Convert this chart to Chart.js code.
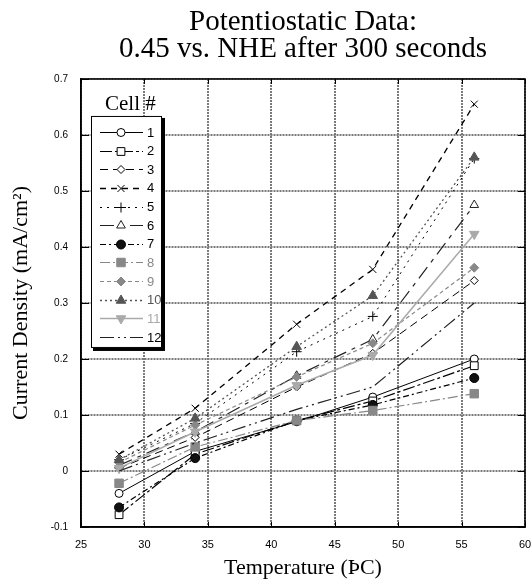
<!DOCTYPE html>
<html><head><meta charset="utf-8">
<script src="https://cdn.jsdelivr.net/npm/chart.js@4/dist/chart.umd.min.js"></script>
<style>html,body{margin:0;padding:0;background:#fff}</style>
</head><body>
<canvas id="c" width="532" height="581"></canvas>
<script>
// ---- data ----
const temperatures = [28, 34, 42, 48, 56];
const cellNames = ['1','2','3','4','5','6','7','8','9','10','11','12'];
const cell1  = [-0.040, 0.035, 0.088, 0.132, 0.200];
const cell2  = [-0.078, 0.030, 0.090, 0.125, 0.188];
const cell3  = [ 0.005, 0.060, 0.150, 0.210, 0.340];
const cell4  = [ 0.030, 0.112, 0.262, 0.360, 0.655];
const cell5  = [ 0.020, 0.085, 0.213, 0.276, 0.558];
const cell6  = [ 0.010, 0.070, 0.170, 0.235, 0.475];
const cell7  = [-0.065, 0.023, 0.090, 0.118, 0.166];
const cell8  = [-0.022, 0.043, 0.090, 0.108, 0.138];
const cell9  = [ 0.015, 0.082, 0.168, 0.228, 0.363];
const cell10 = [ 0.020, 0.094, 0.222, 0.313, 0.560];
const cell11 = [ 0.005, 0.070, 0.153, 0.207, 0.423];
const cell12 = [ 0.000, 0.050, 0.110, 0.150, 0.300];
const yTickValues = [-0.1, 0, 0.1, 0.2, 0.3, 0.4, 0.5, 0.6, 0.7];
const xTickValues = [25, 30, 35, 40, 45, 50, 55, 60];

const seriesValues = [cell1, cell2, cell3, cell4, cell5, cell6, cell7, cell8, cell9, cell10, cell11, cell12];

// styles per series
const styles = [
  {color:'#000', dash:[],            lw:1,   ps:'circle',   r:4,   fill:'#fff'},
  {color:'#000', dash:[12,3,3,3],    lw:1.2, ps:'rect',     r:5.5, fill:'#fff'},
  {color:'#000', dash:[8,5],         lw:1,   ps:'rectRot',  r:4,   fill:'#fff'},
  {color:'#000', dash:[6,5],         lw:1.3, ps:'crossRot', r:5,   fill:'#000'},
  {color:'#000', dash:[2,5],         lw:1,   ps:'cross',    r:5,   fill:'#000'},
  {color:'#222', dash:[14,6,4,6],    lw:1.2, ps:'triangle', r:5,   fill:'#fff'},
  {color:'#000', dash:[6,3,2,3],     lw:1.2, ps:'circle',   r:4.5, fill:'#111'},
  {color:'#888', dash:[10,3,2,3],    lw:1.2, ps:'rect',     r:6,   fill:'#888'},
  {color:'#888', dash:[4,3],         lw:1.2, ps:'rectRot',  r:4.5, fill:'#888'},
  {color:'#555', dash:[2,3],         lw:1.3, ps:'triangle', r:5.5, fill:'#555'},
  {color:'#aaa', dash:[],            lw:1.5, ps:'triangle', r:5.5, fill:'#aaa', rot:180},
  {color:'#222', dash:[14,4,2,4,2,4],lw:1.2, ps:false,      r:0,   fill:'#222'}
];

const datasets = seriesValues.map((vals, i) => {
  const s = styles[i];
  return {
    label: cellNames[i],
    data: temperatures.map((t, j) => ({x: t, y: vals[j]})),
    order: seriesValues.length - i,
    borderColor: s.color,
    backgroundColor: s.fill,
    borderWidth: s.lw,
    borderDash: s.dash,
    pointStyle: s.ps,
    pointRadius: s.r,
    pointRotation: s.rot || 0,
    pointBorderColor: s.color,
    pointBackgroundColor: s.fill,
    pointBorderWidth: 1,
    tension: 0,
    fill: false
  };
});

const framePlugin = {
  id: 'frame',
  afterDatasetsDraw(chart) {
    const {ctx, chartArea: a, scales: {x, y}} = chart;
    ctx.save();
    ctx.setLineDash([]);
    ctx.strokeStyle = '#000';
    ctx.lineWidth = 1;
    const seg = (x1, y1, x2, y2) => { ctx.beginPath(); ctx.moveTo(x1, y1); ctx.lineTo(x2, y2); ctx.stroke(); };
    yTickValues.forEach(v => {
      const py = Math.round(y.getPixelForValue(v)) + 0.5;
      seg(a.left, py, a.left + 8, py);
      seg(a.right - 7, py, a.right, py);
    });
    xTickValues.forEach(v => {
      const px = Math.round(x.getPixelForValue(v)) + 0.5;
      seg(px, a.top, px, a.top + 5);
      seg(px, a.bottom - 5, px, a.bottom);
    });
    ctx.lineWidth = 1.5;
    ctx.strokeRect(a.left, a.top, a.right - a.left, a.bottom - a.top);

    // legend box inside the plot
    const bx = a.left + 10, by = a.top + 37, bw = 71, bh = 232;
    ctx.fillStyle = '#000';
    ctx.fillRect(bx + 2, by + 2, bw + 1, bh + 1);
    ctx.fillStyle = '#fff';
    ctx.fillRect(bx, by, bw, bh);
    ctx.lineWidth = 1;
    ctx.strokeRect(bx + 0.5, by + 0.5, bw - 1, bh - 1);

    ctx.fillStyle = '#000';
    ctx.font = '21px "Liberation Serif"';
    ctx.textAlign = 'left';
    ctx.textBaseline = 'alphabetic';
    ctx.fillText('Cell #', bx + 14, by - 6);

    const rowH = 18.64;
    chart.data.datasets.forEach((ds, i) => {
      const s = styles[i];
      const cy = by + 16 + i * rowH;
      ctx.save();
      ctx.strokeStyle = s.color;
      ctx.lineWidth = s.lw;
      ctx.setLineDash(s.dash);
      seg(bx + 9, Math.round(cy) + 0.5, bx + 52, Math.round(cy) + 0.5);
      ctx.restore();
      if (s.ps) {
        ctx.save();
        ctx.strokeStyle = s.color;
        ctx.fillStyle = s.fill;
        ctx.lineWidth = 1;
        Chart.helpers.drawPoint(ctx, {pointStyle: s.ps, radius: s.r, rotation: s.rot || 0, borderWidth: 1}, bx + 30, Math.round(cy) + 0.5);
        ctx.restore();
      }
      ctx.fillStyle = (i >= 7 && i <= 10) ? s.color : '#000';
      ctx.font = '13px "Liberation Sans"';
      ctx.textBaseline = 'middle';
      ctx.fillText(ds.label, bx + 56, cy + 1);
    });
    ctx.restore();
  }
};

new Chart(document.getElementById('c'), {
  type: 'line',
  data: {datasets},
  options: {
    responsive: false,
    animation: false,
    devicePixelRatio: 1,
    layout: {padding: {left: 0, right: 5, top: 0, bottom: 0}},
    plugins: {
      legend: {display: false},
      tooltip: {enabled: false},
      title: {
        display: true,
        fullSize: false,
        text: ['Potentiostatic Data:', '0.45 vs. NHE after 300 seconds'],
        color: '#000',
        font: {family: 'Liberation Serif', size: 29, weight: 'normal', lineHeight: 0.92},
        padding: {top: 9, bottom: 16.6}
      }
    },
    scales: {
      x: {
        type: 'linear', min: 25, max: 60,
        afterFit: s => { s.height = 54; s.paddingRight = 0; s.paddingLeft = 0; },
        afterBuildTicks: s => { s.ticks = xTickValues.map(v => ({value: v})); },
        ticks: {color: '#000', font: {family: 'Liberation Sans', size: 11}, padding: 11, maxRotation: 0},
        grid: {color: '#7a7a7a', lineWidth: 2, drawTicks: false},
        border: {color: '#000', width: 1.5, dash: [2, 1]},
        title: {display: true, text: 'Temperature (ÞC)', color: '#000', font: {family: 'Liberation Serif', size: 22}, padding: {top: 0, bottom: 0}}
      },
      y: {
        type: 'linear', min: -0.1, max: 0.7,
        afterFit: s => { s.width = 81; s.paddingTop = 0; s.paddingBottom = 0; },
        afterBuildTicks: s => { s.ticks = yTickValues.map(v => ({value: v})); },
        ticks: {color: '#000', font: {family: 'Liberation Sans', size: 10}, padding: 13,
                callback: v => String(Math.round(v * 10) / 10)},
        grid: {color: '#7a7a7a', lineWidth: 2, drawTicks: false},
        border: {color: '#000', width: 1.5, dash: [2, 1]},
        title: {display: true, text: 'Current Density (mA/cm²)', color: '#000', font: {family: 'Liberation Serif', size: 22}, padding: {top: 8, bottom: 0}}
      }
    }
  },
  plugins: [framePlugin]
});
</script>
</body></html>
